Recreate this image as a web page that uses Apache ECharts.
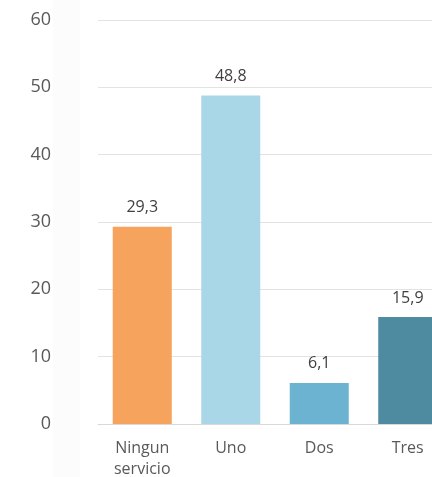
<!DOCTYPE html>
<html><head><meta charset="utf-8">
<script src="https://cdn.jsdelivr.net/npm/echarts@6/dist/echarts.min.js"></script>
<style>html,body{margin:0;padding:0;background:#fff}#c{width:432px;height:477px}</style>
</head><body><div id="c"></div>
<script>
const categories = ['Ningun\nservicio', 'Uno', 'Dos', 'Tres'];
const values = [29.3, 48.8, 6.1, 15.9];
const barColors = ['#F5A35D', '#A9D7E7', '#6BB3D0', '#4F8BA0'];
const yTicks = [0, 10, 20, 30, 40, 50, 60];

const chart = echarts.init(document.getElementById('c'));
chart.setOption({
  animation: false,
  backgroundColor: '#ffffff',
  graphic: [{ type: 'rect', shape: { x: 53, y: 0, width: 27, height: 477 }, style: { fill: '#FCFCFC' }, z: -10 }],
  grid: { left: 98, width: 354, top: 20, bottom: 53, containLabel: false, outerBoundsMode: 'none' },
  xAxis: {
    type: 'category',
    data: categories,
    axisLine: { lineStyle: { color: '#D9D9D9', width: 1 } },
    axisTick: { show: false },
    axisLabel: { color: '#595959', fontFamily: 'Open Sans', fontSize: 16, margin: 14, lineHeight: 21 }
  },
  yAxis: {
    type: 'value',
    min: yTicks[0], max: yTicks[yTicks.length - 1], interval: 10,
    axisLine: { show: false },
    axisTick: { show: false },
    splitLine: { lineStyle: { color: '#E3E3E3', width: 1 } },
    axisLabel: { color: '#595959', fontFamily: 'Open Sans', fontSize: 18, margin: 47 }
  },
  series: [{
    type: 'bar',
    data: values.map((v, i) => ({ value: v, itemStyle: { color: barColors[i] } })),
    barWidth: '66.7%',
    label: {
      show: true, position: 'top', distance: 11,
      color: '#404040', fontFamily: 'Open Sans', fontSize: 16,
      formatter: p => String(p.value).replace('.', ',')
    }
  }]
});
</script></body></html>
